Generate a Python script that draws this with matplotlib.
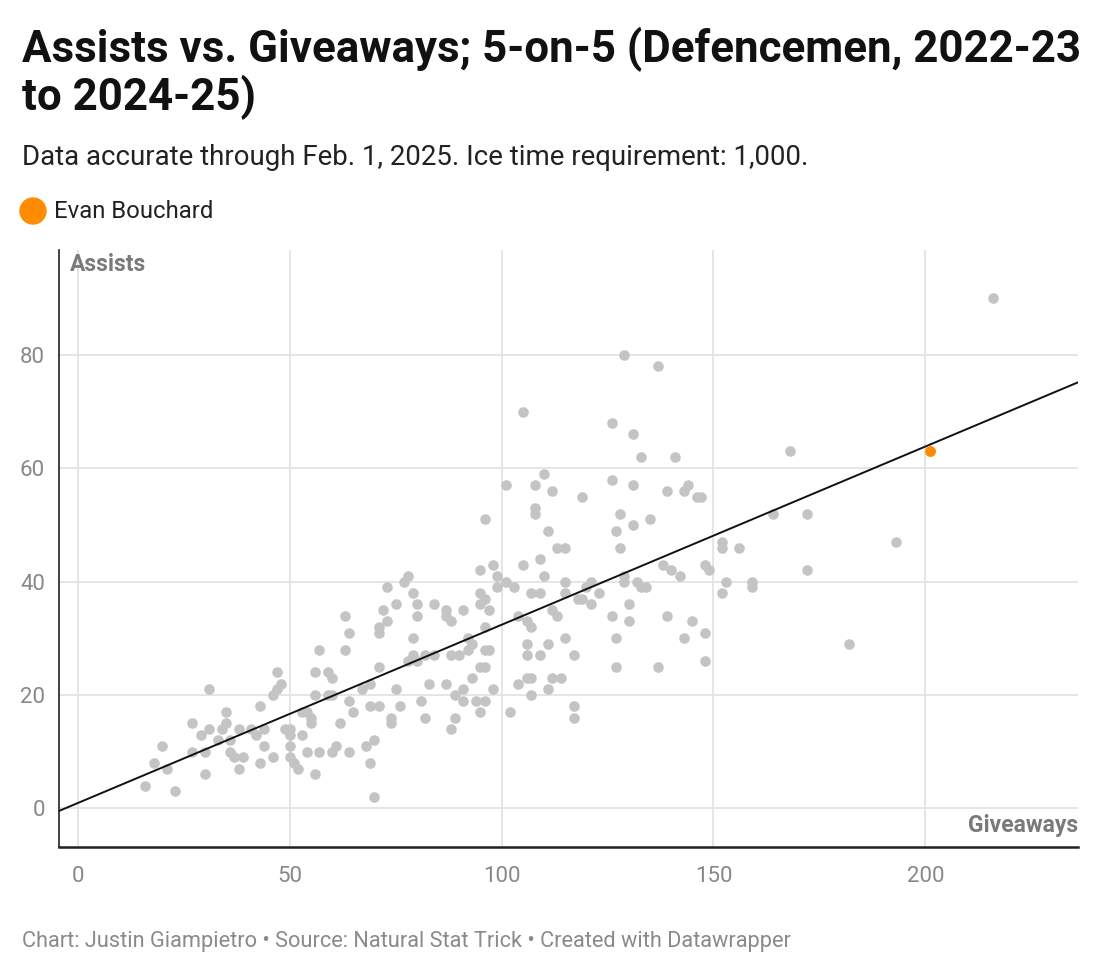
import matplotlib
matplotlib.use("Agg")
import matplotlib.pyplot as plt
import numpy as np

plt.rcParams['font.family'] = ['Roboto', 'DejaVu Sans']

# --- data (giveaways, assists) ---
giveaways = [16, 18, 20, 21, 23, 27, 27, 29, 30, 30, 31, 31, 33, 34, 35, 35, 36, 36, 37, 38,
             38, 39, 41, 42, 43, 43, 44, 44, 46, 46, 47, 47, 48, 49, 50, 50, 50, 50, 51, 52,
             53, 53, 54, 54, 55, 55, 56, 56, 56, 57, 57, 59, 59, 60, 60, 60, 61, 62, 63, 63,
             64, 64, 64, 65, 67, 68, 69, 69, 69, 70, 70, 71, 71, 71, 71, 72, 73, 73, 74, 74,
             75, 75, 76, 77, 78, 78, 79, 79, 79, 80, 80, 80, 81, 82, 82, 83, 84, 84, 87, 87,
             87, 88, 88, 88, 89, 89, 90, 91, 91, 91, 92, 92, 93, 93, 94, 95, 95, 95, 95, 95,
             96, 96, 96, 96, 96, 96, 97, 97, 98, 98, 99, 99, 101, 101, 102, 103, 104, 104, 105, 105,
             106, 106, 106, 106, 107, 107, 107, 107, 108, 108, 108, 109, 109, 109, 110, 110, 111, 111, 111, 112,
             112, 112, 113, 113, 114, 115, 115, 115, 115, 117, 117, 117, 118, 119, 119, 120, 121, 121, 123, 126,
             126, 126, 127, 127, 127, 128, 128, 129, 129, 129, 130, 130, 131, 131, 131, 132, 133, 133, 134, 135,
             137, 137, 138, 139, 139, 140, 141, 142, 143, 143, 144, 145, 146, 147, 148, 148, 148, 149, 152, 152,
             152, 153, 156, 159, 159, 164, 168, 172, 172, 182, 193, 216]
assists = [4, 8, 11, 7, 3, 15, 10, 13, 6, 10, 21, 14, 12, 14, 17, 15, 12, 10, 9, 7,
           14, 9, 14, 13, 18, 8, 11, 14, 20, 9, 21, 24, 22, 14, 14, 11, 13, 9, 8, 7,
           17, 13, 17, 10, 15, 16, 20, 6, 24, 28, 10, 20, 24, 23, 20, 10, 11, 15, 34, 28,
           31, 19, 10, 17, 21, 11, 22, 18, 8, 2, 12, 32, 31, 25, 18, 35, 33, 39, 16, 15,
           36, 21, 18, 40, 41, 26, 38, 30, 27, 36, 34, 26, 19, 27, 16, 22, 36, 27, 35, 34,
           22, 33, 14, 27, 20, 16, 27, 35, 21, 19, 30, 28, 23, 29, 19, 42, 38, 36, 25, 17,
           51, 37, 32, 28, 25, 19, 28, 35, 43, 21, 41, 39, 57, 40, 17, 39, 22, 34, 70, 43,
           33, 29, 27, 23, 38, 32, 23, 20, 57, 53, 52, 44, 38, 27, 59, 41, 49, 29, 21, 56,
           35, 23, 46, 34, 23, 46, 40, 30, 38, 27, 18, 16, 37, 55, 37, 39, 40, 36, 38, 68,
           58, 34, 49, 30, 25, 52, 46, 80, 41, 40, 36, 33, 66, 57, 50, 40, 62, 39, 39, 51,
           78, 25, 43, 56, 34, 42, 62, 41, 56, 30, 57, 33, 55, 55, 43, 31, 26, 42, 47, 46,
           38, 40, 46, 40, 39, 52, 63, 52, 42, 29, 47, 90]
highlight_name = "Evan Bouchard"
highlight_giveaways = [201]
highlight_assists = [63]

x_ticks = [0, 50, 100, 150, 200]
y_ticks = [0, 20, 40, 60, 80]

GRAY_DOT = "#c4c4c4"
ORANGE = "#ff8c00"
GRID = "#e3e3e3"
TICK = "#888888"

fig = plt.figure(figsize=(11, 9.76), dpi=100)
ax = fig.add_axes([59/1100, 1-847/976, (1078-59)/1100, (847-250)/976])

ax.set_xlim(-4.4, 236)
ax.set_ylim(-6.8, 98.5)
ax.set_xticks(x_ticks)
ax.set_yticks(y_ticks)
ax.grid(True, color=GRID, linewidth=1.3, zorder=0)
ax.set_axisbelow(True)
for s in ['top', 'right']:
    ax.spines[s].set_visible(False)
ax.spines['left'].set_color('#222222')
ax.spines['left'].set_linewidth(1.2)
ax.spines['bottom'].set_color('#222222')
ax.spines['bottom'].set_linewidth(1.8)
ax.tick_params(axis='both', length=0, labelsize=16, labelcolor=TICK)
ax.tick_params(axis='x', pad=14)
ax.tick_params(axis='y', pad=10)

ax.scatter(giveaways, assists, s=58, color=GRAY_DOT, linewidths=0, zorder=2)
ax.scatter(highlight_giveaways, highlight_assists, s=62, color=ORANGE, linewidths=0, zorder=4)

# regression line
allx = np.array(giveaways + highlight_giveaways, dtype=float)
ally = np.array(assists + highlight_assists, dtype=float)
m, b = np.polyfit(allx, ally, 1)
xl = np.array([-4.4, 236])
ax.plot(xl, m * xl + b, color='#111111', linewidth=1.4, zorder=3)

ax.text(0.011, 0.995, "Assists", transform=ax.transAxes, ha='left', va='top',
        fontsize=16.5, fontweight='bold', color='#7a7a7a')
ax.text(1.0, 1-(832-250)/597, "Giveaways", transform=ax.transAxes, ha='right', va='baseline',
        fontsize=16.5, fontweight='bold', color='#7a7a7a')

# titles
fig.text(22/1100, 1-62/976, "Assists vs. Giveaways; 5-on-5 (Defencemen, 2022-23",
         fontsize=31.6, fontweight='bold', color='#111111', ha='left', va='baseline')
fig.text(22/1100, 1-110/976, "to 2024-25)",
         fontsize=31.6, fontweight='bold', color='#111111', ha='left', va='baseline')
fig.text(22/1100, 1-165/976, "Data accurate through Feb. 1, 2025. Ice time requirement: 1,000.",
         fontsize=19.9, color='#222222', ha='left', va='baseline')

# legend
fig.add_artist(matplotlib.patches.Ellipse((33/1100, 1-211/976), 26/1100, 26/976,
                                          transform=fig.transFigure, color=ORANGE))
fig.text(54/1100, 1-218/976, highlight_name, fontsize=17.2, color='#222222',
         ha='left', va='baseline')

fig.text(22/1100, 1-947/976,
         "Chart: Justin Giampietro \u2022 Source: Natural Stat Trick \u2022 Created with Datawrapper",
         fontsize=15.7, color='#8a8a8a', ha='left', va='baseline')

fig.savefig("out.png", dpi=100)
